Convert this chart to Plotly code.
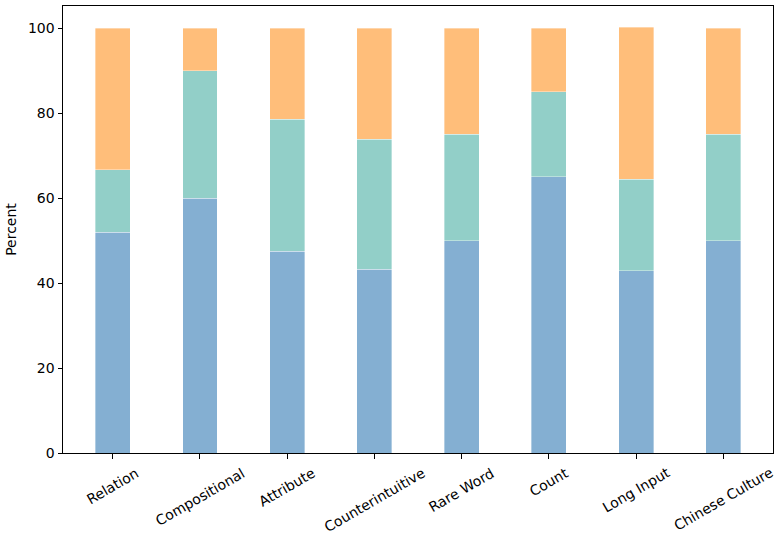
import plotly.graph_objects as go

categories = ["Relation", "Compositional", "Attribute", "Counterintuitive",
              "Rare Word", "Count", "Long Input", "Chinese Culture"]
bottom_vals = [51.9, 60.0, 47.5, 43.3, 50.0, 65.0, 42.9, 50.0]
middle_vals = [14.8, 30.0, 31.0, 30.5, 25.0, 20.0, 21.5, 25.0]
top_vals = [33.3, 10.0, 21.5, 26.2, 25.0, 15.0, 35.8, 25.0]
y_ticks = [0, 20, 40, 60, 80, 100]

colors = ["#84AFD2", "#92CFC8", "#FFBE7A"]
xpos = list(range(len(categories)))

fig = go.Figure()
for vals, col in zip([bottom_vals, middle_vals, top_vals], colors):
    fig.add_trace(go.Bar(x=xpos, y=vals, width=0.4,
                         marker=dict(color=col, line=dict(width=0.6, color="rgba(255,255,255,0.6)")),
                         showlegend=False))

font = dict(family="DejaVu Sans", size=14, color="black")
for i, c in enumerate(categories):
    fig.add_annotation(x=i, y=0, xref="x", yref="paper", text=c, showarrow=False,
                       textangle=-30, xanchor="center", yanchor="top", yshift=-9, font=font)

fig.update_layout(
    barmode="stack",
    width=781, height=540,
    margin=dict(l=63, r=8, t=6, b=87),
    plot_bgcolor="white", paper_bgcolor="white",
    font=font,
    xaxis=dict(range=[-0.57, 7.57], tickvals=xpos, showticklabels=False, ticks="outside", ticklen=4.5,
               tickcolor="black", showline=True, mirror=True, linecolor="black", linewidth=1,
               showgrid=False, zeroline=False),
    yaxis=dict(range=[0, 105.2], tickvals=y_ticks, ticks="outside", ticklen=4.5, tickcolor="black",
               showline=True, mirror=True, linecolor="black", linewidth=1, showgrid=False, zeroline=False,
               title=dict(text="Percent", font=font, standoff=8)),
)
fig.write_html("out.html", config={"displayModeBar": False},
               post_script="document.body.style.margin='0';")
